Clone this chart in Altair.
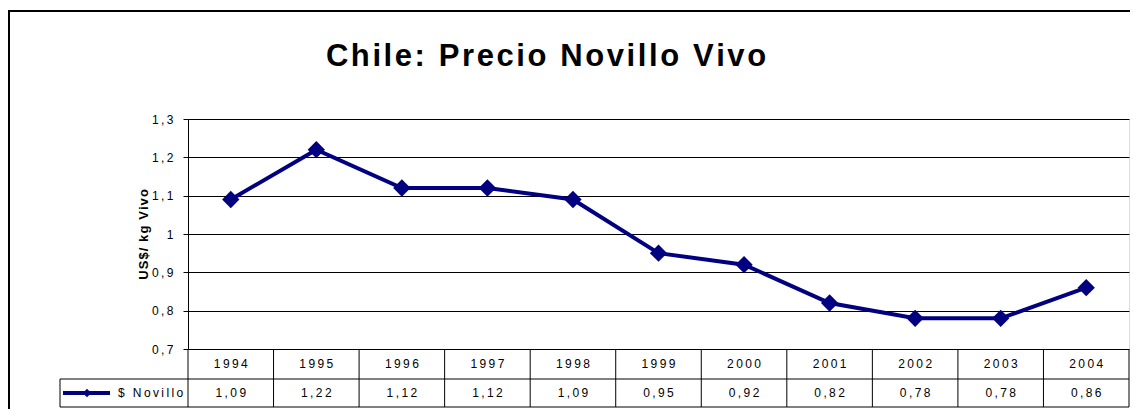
import altair as alt
import pandas as pd

years = [1994, 1995, 1996, 1997, 1998, 1999, 2000, 2001, 2002, 2003, 2004]
prices = [1.09, 1.22, 1.12, 1.12, 1.09, 0.95, 0.92, 0.82, 0.78, 0.78, 0.86]
value_labels = ["1,09", "1,22", "1,12", "1,12", "1,09", "0,95", "0,92", "0,82", "0,78", "0,78", "0,86"]
y_ticks = [0.7, 0.8, 0.9, 1.0, 1.1, 1.2, 1.3]
y_tick_labels = ["0,7", "0,8", "0,9", "1", "1,1", "1,2", "1,3"]
title_text = "Chile: Precio Novillo Vivo"
y_title = "US$/ kg Vivo"
series_name = "$ Novillo"

NAVY = "#000080"
FONT = "Liberation Sans, Arial, sans-serif"
TS = "\u2009"
HS = "\u200a"


def spaced(s, sep=TS):
    return sep.join(list(s))


PAD_LEFT, PAD_TOP, PAD_RIGHT = 180, 111, 1
W, H = 941, 230
ROW1_TOP, ROW2_TOP, ROW2_BOT = 230, 260, 288
LEG_LEFT = -128

df = pd.DataFrame({
    "year": years,
    "price": prices,
    "year_label": [spaced(str(y)) for y in years],
    "value_label": [spaced(v) for v in value_labels],
})

xscale = alt.Scale(domain=[years[0] - 0.5, years[-1] + 0.5], nice=False, zero=False)
yscale = alt.Scale(domain=[y_ticks[0], y_ticks[-1]], nice=False, zero=False)

label_expr = "[" + ",".join("'" + spaced(l) + "'" for l in y_tick_labels) + "][round(datum.value*10)-7]"

base = alt.Chart(df)
one = pd.DataFrame({"k": [0]})

frame_top = alt.Chart(one).mark_rule(color="#000000", strokeWidth=2).encode(
    x=alt.value(-PAD_LEFT), x2=alt.value(W + PAD_RIGHT), y=alt.value(-108)
)
frame_left = alt.Chart(one).mark_rule(color="#000000", strokeWidth=2).encode(
    x=alt.value(-179), y=alt.value(-109), y2=alt.value(H + 60)
)

line = base.mark_line(color=NAVY, strokeWidth=4).encode(
    x=alt.X("year:Q", scale=xscale, axis=None),
    y=alt.Y(
        "price:Q",
        scale=yscale,
        axis=alt.Axis(
            values=y_ticks,
            tickCount=20,
            labelOverlap=False,
            grid=True,
            gridColor="#000000",
            gridOpacity=1,
            gridWidth=1,
            domainColor="#000000",
            domainWidth=1,
            tickColor="#000000",
            tickSize=5,
            labelPadding=10,
            labelFont=FONT,
            labelFontSize=12,
            labelColor="#000000",
            labelExpr=label_expr,
            title=spaced(y_title, HS),
            titleFont=FONT,
            titleFontSize=13,
            titleFontWeight="bold",
            titleColor="#000000",
            titleAngle=270,
            titleX=-45,
            titleY=H / 2,
            titleAlign="center",
            titleBaseline="middle",
        ),
    ),
)

points = base.mark_point(shape="diamond", filled=True, color=NAVY, size=300, opacity=1).encode(
    x=alt.X("year:Q", scale=xscale),
    y=alt.Y("price:Q", scale=yscale),
)

header_text = base.mark_text(font=FONT, fontSize=12, color="#000000", baseline="middle").encode(
    x=alt.X("year:Q", scale=xscale),
    y=alt.value((ROW1_TOP + ROW2_TOP) / 2),
    text="year_label:N",
)

value_text = base.mark_text(font=FONT, fontSize=12, color="#000000", baseline="middle").encode(
    x=alt.X("year:Q", scale=xscale),
    y=alt.value((ROW2_TOP + ROW2_BOT) / 2),
    text="value_label:N",
)

vlines = base.transform_calculate(edge="datum.year - 0.5").mark_rule(
    color="#000000", strokeWidth=1
).encode(
    x=alt.X("edge:Q", scale=xscale),
    y=alt.value(ROW1_TOP),
    y2=alt.value(ROW2_BOT),
)

last_vline = alt.Chart(pd.DataFrame({"edge": [years[-1] + 0.5]})).mark_rule(
    color="#000000", strokeWidth=1
).encode(
    x=alt.X("edge:Q", scale=xscale),
    y=alt.value(ROW1_TOP),
    y2=alt.value(ROW2_BOT),
)

hlines = alt.Chart(pd.DataFrame({"row": [ROW2_TOP, ROW2_BOT]})).mark_rule(
    color="#000000", strokeWidth=1
).encode(
    x=alt.value(LEG_LEFT), x2=alt.value(W), y=alt.Y("row:Q", scale=None)
)

leg_left = alt.Chart(one).mark_rule(color="#000000", strokeWidth=1).encode(
    x=alt.value(LEG_LEFT), y=alt.value(ROW2_TOP), y2=alt.value(ROW2_BOT)
)

leg_line = alt.Chart(one).mark_rule(color=NAVY, strokeWidth=4).encode(
    x=alt.value(-125), x2=alt.value(-78), y=alt.value((ROW2_TOP + ROW2_BOT) / 2)
)

leg_point = alt.Chart(one).mark_point(
    shape="diamond", filled=True, color=NAVY, size=70, opacity=1
).encode(x=alt.value(-101), y=alt.value((ROW2_TOP + ROW2_BOT) / 2))

leg_text = alt.Chart(pd.DataFrame({"t": [spaced(series_name)]})).mark_text(
    font=FONT, fontSize=12, color="#000000", align="left", baseline="middle"
).encode(x=alt.value(-70), y=alt.value((ROW2_TOP + ROW2_BOT) / 2), text="t:N")

title = alt.Chart(pd.DataFrame({"t": [spaced(title_text, HS)]})).mark_text(
    font=FONT, fontSize=31, fontWeight="bold", color="#000000", align="center", baseline="alphabetic"
).encode(x=alt.value(358), y=alt.value(-53), text="t:N")

chart = alt.layer(
    frame_top, frame_left, line, points, header_text, value_text, vlines, last_vline, hlines,
    leg_left, leg_line, leg_point, leg_text, title
).properties(
    width=W, height=H,
    autosize=alt.AutoSizeParams(type="none"),
    padding={"left": PAD_LEFT, "top": PAD_TOP, "right": PAD_RIGHT, "bottom": 60},
).configure_view(stroke=None).configure(background="white")

chart.save("out.html", embed_options={"renderer": "svg", "actions": False})
